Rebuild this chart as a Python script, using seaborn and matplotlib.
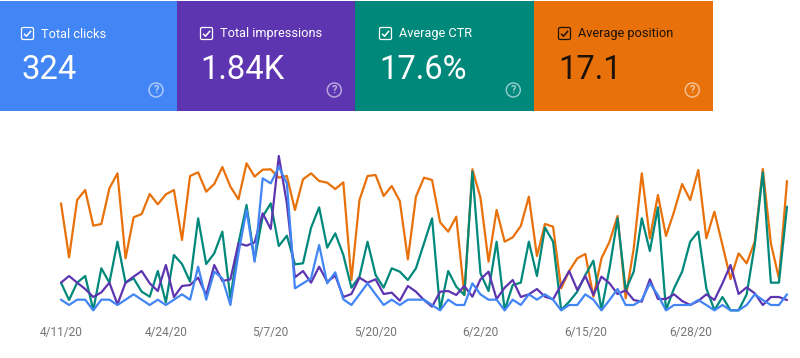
import pandas as pd
import seaborn as sns
import matplotlib.pyplot as plt
from matplotlib.patches import Rectangle, Circle, FancyBboxPatch

W, H = 800, 358

card_labels = ['Total clicks', 'Total impressions', 'Average CTR', 'Average position']
card_values = ['324', '1.84K', '17.6%', '17.1']
card_colors = ['#4285f4', '#5e35b1', '#00897b', '#e8710a']
card_text = ['white', 'white', 'white', '#1c1207']
card_edges = [0, 176.7, 355, 534, 713]
box_lefts = [21.5, 200.5, 379.5, 558.5]

tick_labels = ['4/11/20', '4/24/20', '5/7/20', '5/20/20', '6/2/20', '6/15/20', '6/28/20']

position = [325, 163, 335, 365, 258, 263, 370, 415, 160, 283, 293, 353, 322, 352, 365, 215, 407, 418, 360, 383,
            434, 375, 337, 445, 405, 426, 427, 402, 407, 305, 397, 415, 392, 387, 368, 388, 95, 335, 407, 410, 347, 377, 332, 157,
            345, 402, 395, 268, 240, 285, 50, 427, 342, 150, 305, 210, 223, 257, 345, 167, 263, 255, 70, 122, 160, 173, 45,
            160, 210, 287, 40, 190, 415, 220, 350, 227, 300, 383, 335, 425, 220, 300, 200, 98, 175, 145, 210, 428, 205, 100, 392]
ctr = [87, 35, 87, 107, 5, 130, 87, 210, 87, 100, 60, 45, 122, 28, 170, 143, 90, 280, 143, 175,
       240, 40, 205, 320, 155, 285, 325, 197, 228, 142, 145, 252, 313, 192, 235, 170, 72, 105, 210, 110, 72, 130, 120, 95,
       130, 205, 280, 5, 122, 75, 50, 420, 115, 62, 210, 5, 80, 87, 210, 107, 252, 210, 5, 30, 60, 110, 153,
       5, 130, 280, 65, 120, 280, 182, 313, 5, 70, 120, 210, 240, 70, 5, 44, 4, 4, 52, 200, 418, 87, 87, 315]
impressions = [87, 107, 87, 68, 44, 58, 87, 22, 87, 105, 122, 85, 62, 140, 44, 77, 80, 102, 50, 140,
               92, 97, 205, 198, 208, 295, 248, 467, 325, 103, 122, 87, 135, 90, 108, 44, 53, 102, 87, 97, 53, 57, 33, 77,
               60, 35, 15, 60, 62, 50, 77, 45, 97, 120, 38, 72, 95, 44, 52, 68, 45, 37, 80, 122, 65, 107, 50,
               105, 85, 53, 64, 35, 30, 97, 38, 38, 52, 32, 20, 32, 52, 35, 85, 140, 53, 73, 55, 20, 44, 44, 35]
clicks = [36, 20, 36, 36, 4, 36, 36, 20, 36, 52, 36, 20, 36, 20, 36, 52, 36, 135, 36, 120,
          100, 20, 175, 305, 150, 400, 385, 435, 385, 70, 85, 100, 200, 85, 118, 37, 20, 52, 85, 52, 20, 36, 20, 36,
          36, 36, 20, 4, 36, 20, 20, 85, 52, 36, 36, 4, 36, 20, 52, 36, 52, 36, 4, 20, 20, 52, 36,
          4, 35, 68, 20, 20, 35, 85, 50, 4, 20, 20, 20, 35, 20, 4, 20, 4, 4, 20, 52, 35, 20, 20, 52]

dates = pd.date_range('2020-04-11', periods=len(clicks))
df = pd.DataFrame({'date': dates, 'Average position': position, 'Average CTR': ctr,
                   'Total impressions': impressions, 'Total clicks': clicks})
df = df.melt(id_vars='date', var_name='metric', value_name='value')

sns.set_theme(style='white')
plt.rcParams['font.family'] = ['Roboto', 'DejaVu Sans']

fig = plt.figure(figsize=(W / 100, H / 100), dpi=100)

# chart area, placed in pixels
left, right, top, bottom = 61, 787, 145, 311.67
ax = fig.add_axes([left / W, 1 - bottom / H, (right - left) / W, (bottom - top) / H])
palette = dict(zip(card_labels, card_colors))
sns.lineplot(data=df, x='date', y='value', hue='metric', palette=palette, linewidth=1.6,
             hue_order=['Average position', 'Average CTR', 'Total impressions', 'Total clicks'],
             legend=False, ax=ax)
ax.set_xlim(dates[0], dates[-1])
ax.set_ylim(0, 500)
ax.set(xlabel='', ylabel='')
ax.set_yticks([])
ax.set_xticks(dates[::13][:len(tick_labels)])
ax.set_xticklabels(tick_labels, fontsize=8.6, color='#757575')
ax.tick_params(axis='x', length=0, pad=10.5)
sns.despine(ax=ax, left=True, bottom=True)
ax.patch.set_alpha(0)
for line in ax.lines:
    line.set_clip_on(False)

# metric cards, in pixel coordinates
over = fig.add_axes([0, 0, 1, 1], zorder=3)
over.set_xlim(0, W)
over.set_ylim(H, 0)
over.axis('off')

for i, label in enumerate(card_labels):
    x0, x1 = card_edges[i], card_edges[i + 1]
    col = card_text[i]
    over.add_patch(Rectangle((x0, 1), x1 - x0, 110, color=card_colors[i], lw=0))
    bx = box_lefts[i]
    over.add_patch(FancyBboxPatch((bx, 27.5), 12, 12, boxstyle='round,pad=0,rounding_size=1.5',
                                  fc='none', ec=col, lw=0.9))
    over.plot([bx + 2.6, bx + 5, bx + 9.6], [33.8, 36.2, 30.8], color=col, lw=1.1, solid_capstyle='butt')
    over.text(bx + 19.5, 34, label, color=col, fontsize=9.2, va='center', ha='left')
    over.text(bx + 0.2, 79, card_values[i], color=col, fontsize=23.6, va='baseline', ha='left')
    hx = x1 - 20.7
    over.add_patch(Circle((hx, 90), 7, fc='none', ec='white', lw=1.1, alpha=0.55))
    over.text(hx, 90.3, '?', color='white', alpha=0.6, fontsize=8, fontweight='bold', va='center', ha='center')

fig.savefig('out.png', dpi=100)
